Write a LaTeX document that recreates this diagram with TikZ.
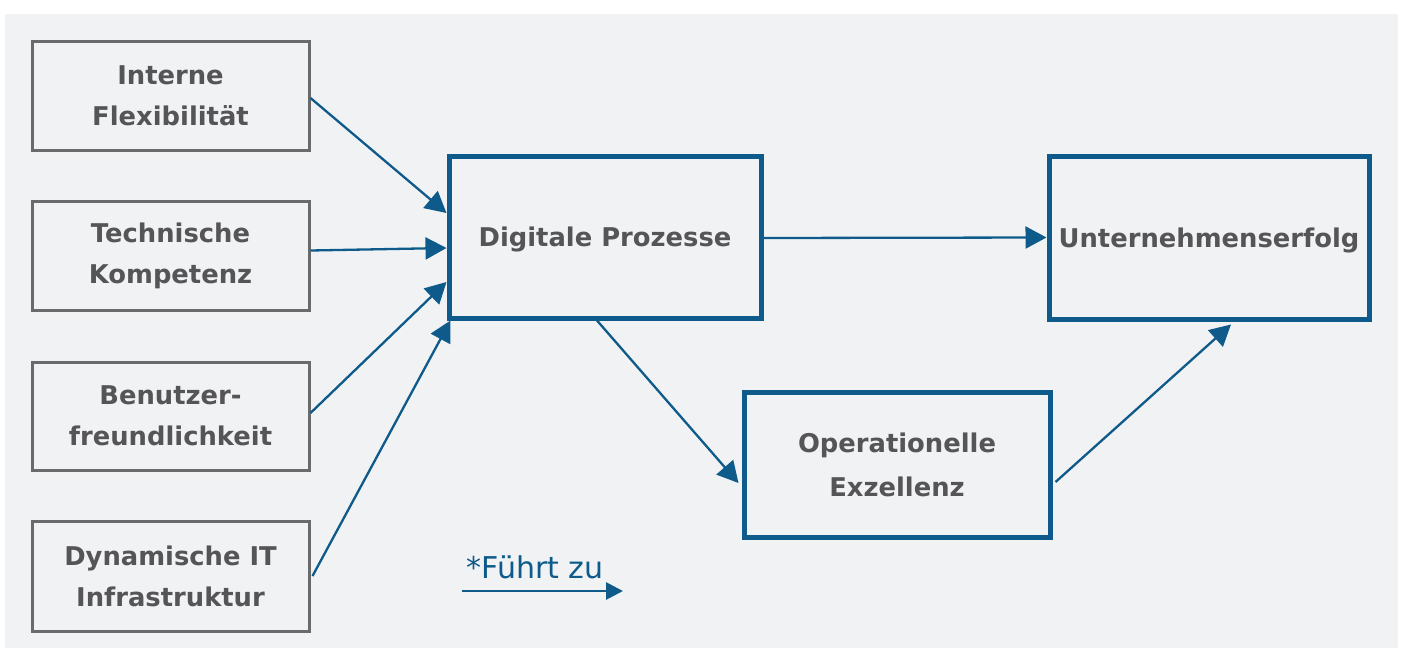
\documentclass[tikz,border=0pt]{standalone}
\usepackage{fontspec}
\setmainfont{DejaVu Sans}
\usetikzlibrary{arrows.meta}
\definecolor{bgpanel}{HTML}{F1F2F4}
\definecolor{dblue}{HTML}{0E5A8A}
\definecolor{gtext}{HTML}{555557}
\definecolor{gline}{HTML}{6A6A6A}
\tikzset{
  inbox/.style={draw=gline, line width=3pt, fill=bgpanel, minimum width=277pt, minimum height=109pt, align=center, text=gtext, font=\bfseries\fontsize{25.8}{41}\selectfont, inner sep=0pt},
  mainbox/.style={draw=dblue, line width=5pt, fill=bgpanel, align=center, text=gtext, font=\bfseries\fontsize{25.8}{44}\selectfont, inner sep=0pt},
  conn/.style={draw=dblue, line width=2.3pt, -{Triangle[length=21pt,width=22pt]}},
}
\begin{document}
\begin{tikzpicture}[x=1pt,y=-1pt]
\useasboundingbox (0,0) rectangle (1401,648);
\fill[white] (0,0) rectangle (1401,648);
\fill[bgpanel] (5,14) rectangle (1398,648);

\node[inbox] (b1) at (170.5,95.5) {Interne\\Flexibilität};
\node[inbox] (b2) at (170.5,255.5) {Technische\\Kompetenz};
\node[inbox, minimum height=108pt] (b3) at (170.5,416) {Benutzer-\\freundlichkeit};
\node[inbox, minimum height=110pt] (b4) at (170.5,576) {Dynamische IT\\Infrastruktur};

\node[mainbox, minimum width=312pt, minimum height=162pt, text depth=0pt] (dp) at (605,237) {Digitale Prozesse};
\node[mainbox, minimum width=320pt, minimum height=163pt, text depth=0pt] (ue) at (1209,237.5) {Unternehmenserfolg};
\node[mainbox, minimum width=306pt, minimum height=145pt] (oe) at (897,464.5) {Operationelle\\Exzellenz};

\draw[conn] ([yshift=-2.5pt]b1.east) -- ([yshift=24pt]dp.west);
\draw[conn] ([yshift=5pt]b2.east) -- ([yshift=-11pt]dp.west);
\draw[conn] ([yshift=3pt]b3.east) -- ([yshift=-45pt]dp.west);
\draw[conn] ([xshift=2pt]b4.east) -- ([xshift=4pt]dp.south west);
\draw[conn] ([yshift=-1pt]dp.east) -- (ue.west);
\draw[conn] ([xshift=-8pt]dp.south) -- ([xshift=-3pt,yshift=-18.5pt]oe.west);
\draw[conn] ([xshift=3pt,yshift=-17.5pt]oe.east) -- ([xshift=22pt,yshift=-3pt]ue.south);

\node[text=dblue, font=\fontsize{30}{34}\selectfont, inner sep=0pt] (lg) at (535,567) {*Führt zu};
\coordinate (l1) at (462,591);
\coordinate (l2) at (623,591);
\draw[conn, line width=2.8pt, -{Triangle[length=17pt,width=17pt]}] (l1) -- (l2);
\end{tikzpicture}
\end{document}
